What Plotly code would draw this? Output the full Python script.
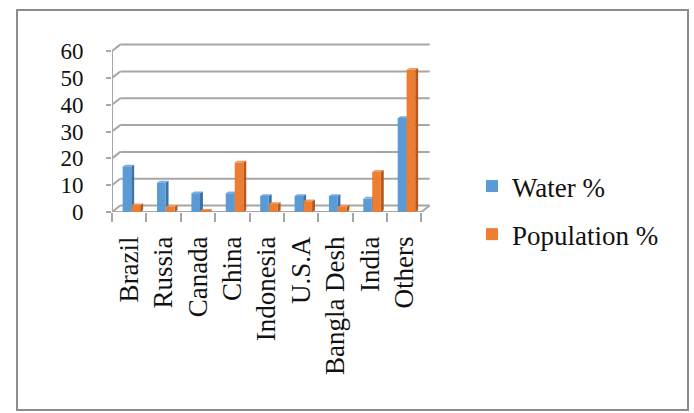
import plotly.graph_objects as go

# ---- data ----
countries = ["Brazil", "Russia", "Canada", "China", "Indonesia",
             "U.S.A", "Bangla Desh", "India", "Others"]
water_pct = [17, 11, 7, 7, 6, 6, 6, 5, 35]
population_pct = [2.5, 2, 0.5, 18.5, 3, 4, 2, 15, 53]
y_ticks = [0, 10, 20, 30, 40, 50, 60]

# ---- style ----
W, H = 694, 413
ML, MR, MT, MB = 112, 264, 43, 201
FONT = "Liberation Serif"
BLUE, BLUE_SIDE, BLUE_TOP = "#5B9BD5", "#3E72A6", "#78ACDD"
ORANGE, ORANGE_SIDE, ORANGE_TOP = "#ED7D31", "#B3591C", "#F2975B"
GRID = "#A6A6A6"

BAR_W = 0.25
DEPTH_X, DEPTH_Y = 0.085, 0.65      # side/top faces of each column
WALL_X, WALL_Y = 0.24, 2.4          # offset of the back wall
X_MIN, X_MAX = -0.5, len(countries) - 0.5
idx = list(range(len(countries)))

shapes = []


def seg(x0, y0, x1, y1):
    shapes.append(dict(type="line", xref="x", yref="y", x0=x0, y0=y0,
                       x1=x1, y1=y1, layer="below",
                       line=dict(color=GRID, width=2)))


# back-wall gridlines and the slanted side-wall ticks
for v in y_ticks:
    seg(X_MIN + WALL_X, v + WALL_Y, X_MAX + WALL_X, v + WALL_Y)
    seg(X_MIN, v, X_MIN + WALL_X, v + WALL_Y)
# front value axis, front floor edge, right floor edge
seg(X_MIN, 0, X_MIN, y_ticks[-1])
seg(X_MIN, 0, X_MAX, 0)
seg(X_MAX, 0, X_MAX + WALL_X, WALL_Y)


def faces(values, offset, side_col, top_col):
    for i, v in zip(idx, values):
        x0 = i + offset
        x1 = x0 + BAR_W
        side = (f"M{x1},0 L{x1 + DEPTH_X},{DEPTH_Y} "
                f"L{x1 + DEPTH_X},{v + DEPTH_Y} L{x1},{v} Z")
        top = (f"M{x0},{v} L{x0 + DEPTH_X},{v + DEPTH_Y} "
               f"L{x1 + DEPTH_X},{v + DEPTH_Y} L{x1},{v} Z")
        for p, c in ((side, side_col), (top, top_col)):
            shapes.append(dict(type="path", xref="x", yref="y", path=p,
                               fillcolor=c, line=dict(width=0), layer="below"))


WATER_OFF, POP_OFF = -0.19, 0.07
faces(water_pct, WATER_OFF, BLUE_SIDE, BLUE_TOP)
faces(population_pct, POP_OFF, ORANGE_SIDE, ORANGE_TOP)

# outer frame of the chart
pw = W - ML - MR
ph = H - MT - MB
def px_x(p):
    return (p - ML) / pw
def px_y(p):
    return (H - MB - p) / ph
shapes.append(dict(type="rect", xref="paper", yref="paper",
                   x0=px_x(17), x1=px_x(688), y0=px_y(410), y1=px_y(10),
                   line=dict(color="#8C8C8C", width=2), layer="below"))

fig = go.Figure()
fig.add_trace(go.Bar(x=idx, y=water_pct, width=BAR_W, offset=WATER_OFF,
                     name="Water %", legendgroup="w",
                     marker=dict(color=BLUE, line=dict(width=0))))
fig.add_trace(go.Bar(x=idx, y=population_pct, width=BAR_W, offset=POP_OFF,
                     name="Population %", legendgroup="p",
                     marker=dict(color=ORANGE, line=dict(width=0))))

fig.update_layout(
    width=W, height=H,
    margin=dict(l=ML, r=MR, t=MT, b=MB),
    paper_bgcolor="white", plot_bgcolor="white",
    barmode="overlay",
    font=dict(family=FONT, size=27, color="#111111"),
    shapes=shapes,
    showlegend=True,
    legend=dict(xref="container", yref="container",
                x=472 / W, y=1 - 162 / H, xanchor="left", yanchor="top",
                traceorder="grouped", tracegroupgap=10,
                font=dict(family=FONT, size=27, color="#111111"),
                bgcolor="rgba(0,0,0,0)"),
    xaxis=dict(range=[X_MIN, X_MAX + WALL_X + 0.01],
               tickmode="array", tickvals=idx, ticktext=countries,
               tickangle=-90, ticks="", showgrid=False, zeroline=False,
               showline=False, ticklabelstandoff=18,
               minor=dict(tickmode="array",
                          tickvals=[i - 0.5 for i in range(len(countries) + 1)],
                          ticks="outside", ticklen=9, tickwidth=2,
                          tickcolor=GRID, showgrid=False)),
    yaxis=dict(range=[0, 63], tickmode="array", tickvals=y_ticks,
               ticks="outside", ticklen=5, tickwidth=2, tickcolor=GRID,
               showgrid=False, zeroline=False, showline=False,
               tickfont=dict(family=FONT, size=23, color="#111111"),
               ticklabelstandoff=18),
)

fig.write_html("out.html")
